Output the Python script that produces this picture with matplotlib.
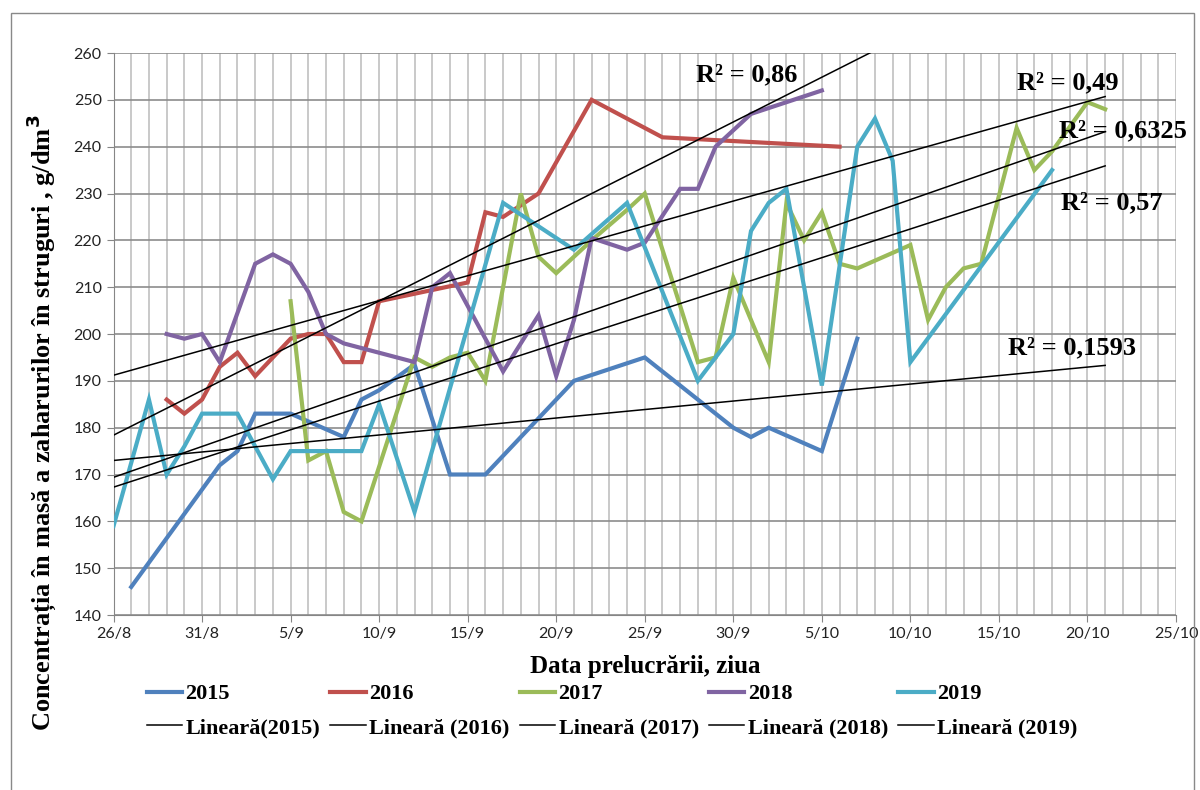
import numpy as np
import pandas as pd
import matplotlib
matplotlib.use("Agg")
import matplotlib.pyplot as plt
from matplotlib.patches import Rectangle

# date de masurare (zi/luna) si concentratia zaharurilor, g/dm3
days_2015 = ["27/8", "1/9", "2/9", "3/9", "5/9", "8/9", "9/9", "10/9", "12/9", "14/9",
             "16/9", "21/9", "25/9", "30/9", "1/10", "2/10", "5/10", "7/10"]
vals_2015 = [146, 172, 175, 183, 183, 178, 186, 188, 193.5, 170,
             170, 190, 195, 180, 178, 180, 175, 199]

days_2016 = ["29/8", "30/8", "31/8", "1/9", "2/9", "3/9", "5/9", "6/9", "7/9", "8/9",
             "9/9", "10/9", "15/9", "16/9", "17/9", "19/9", "22/9", "26/9", "6/10"]
vals_2016 = [186, 183, 186, 193, 196, 191, 199, 200, 200, 194,
             194, 207, 211, 226, 225, 230, 250, 242, 240]

days_2017 = ["5/9", "6/9", "7/9", "8/9", "9/9", "12/9", "13/9", "14/9", "15/9", "16/9",
             "18/9", "19/9", "20/9", "21/9", "22/9", "24/9", "25/9", "28/9", "29/9", "30/9",
             "2/10", "3/10", "4/10", "5/10", "6/10", "7/10", "10/10", "11/10", "12/10", "13/10",
             "14/10", "16/10", "17/10", "18/10", "20/10", "21/10"]
vals_2017 = [207, 173, 175, 162, 160, 195, 193, 195, 196, 190,
             230, 216.5, 213, 216.5, 220, 226.5, 230, 194, 195, 212,
             194, 228, 220, 226, 215, 214, 219, 203, 210, 214,
             215, 244, 235, 239, 249.5, 248]

days_2018 = ["29/8", "30/8", "31/8", "1/9", "3/9", "4/9", "5/9", "6/9", "7/9", "8/9",
             "10/9", "12/9", "13/9", "14/9", "17/9", "19/9", "20/9", "21/9", "22/9", "24/9",
             "25/9", "27/9", "28/9", "29/9", "30/9", "1/10", "5/10"]
vals_2018 = [200, 199, 200, 194, 215, 217, 215, 209, 200, 198,
             196, 194, 210, 213, 192, 204, 191, 203, 220.5, 218,
             219.5, 231, 231, 240, 243.5, 247, 252]

days_2019 = ["26/8", "28/8", "29/8", "30/8", "31/8", "2/9", "4/9", "5/9", "9/9", "10/9",
             "12/9", "17/9", "21/9", "24/9", "28/9", "30/9", "1/10", "2/10", "3/10", "5/10",
             "7/10", "8/10", "9/10", "10/10", "18/10"]
vals_2019 = [159, 186, 170, 176, 183, 183, 169, 175, 175, 185,
             162, 228, 218, 228, 190, 200, 222, 228, 231, 189,
             240, 246, 237, 194, 235]

years = ["2015", "2016", "2017", "2018", "2019"]
colors = ["#4F81BD", "#C0504D", "#9BBB59", "#8064A2", "#4BACC6"]
all_days = [days_2015, days_2016, days_2017, days_2018, days_2019]
all_vals = [vals_2015, vals_2016, vals_2017, vals_2018, vals_2019]

# tendinte liniare: valoarea la 26/8 si la 21/10
trend_start = [173.0, 191.2, 169.4, 178.4, 167.3]
trend_end = [193.3, 250.7, 243.2, 285.4, 235.9]
trend_from, trend_to = "26/8", "21/10"
r2_labels = ["R² = 0,1593", "R² = 0,49", "R² = 0,6325", "R² = 0,86", "R² = 0,57"]
# pozitia etichetelor: zile dupa 26/8 si valoarea pe axa y
r2_day = [50.5, 51.0, 53.4, 32.9, 53.5]
r2_y = [197.0, 253.6, 243.3, 255.3, 228.0]
legend_trend = ["Lineară(2015)", "Lineară (2016)", "Lineară (2017)", "Lineară (2018)", "Lineară (2019)"]


def to_date(s):
    return pd.to_datetime(s, format="%d/%m")


serif = ["Liberation Serif", "DejaVu Serif"]
start = to_date("26/8")

fig = plt.figure(figsize=(12, 7.9), dpi=100)
ax = fig.add_axes([0.0946, 0.2215, 0.8854, 0.7114])

handles = []
for yr, col, d, v in zip(years, colors, all_days, all_vals):
    h, = ax.plot(to_date(d), v, color=col, lw=3, solid_joinstyle="miter", label=yr, zorder=3)
    handles.append(h)

trend_handles = []
for i in range(5):
    x = to_date([trend_from, trend_to])
    h, = ax.plot(x, [trend_start[i], trend_end[i]], color="black", lw=1.1,
                 label=legend_trend[i], zorder=4)
    trend_handles.append(h)
    ax.text(start + pd.Timedelta(days=r2_day[i]), r2_y[i], r2_labels[i], family=serif,
            fontweight="bold", fontsize=19, va="center", ha="left", zorder=5)

# axe
ax.set_xlim(to_date("26/8"), to_date("25/10"))
ax.set_ylim(140, 260)
ax.set_yticks(np.arange(140, 261, 10))
major = pd.date_range("1900-08-26", "1900-10-25", freq="5D")
minor = pd.date_range("1900-08-26", "1900-10-25", freq="D")
ax.set_xticks(major)
ax.set_xticklabels([f"{t.day}/{t.month}" for t in major])
ax.set_xticks(minor, minor=True)
ax.tick_params(axis="x", which="minor", length=0)
ax.tick_params(axis="both", which="major", length=5, color="#868686",
               labelsize=11.5, labelcolor="#222222")
for lab in ax.get_xticklabels() + ax.get_yticklabels():
    lab.set_family(["Lato", "DejaVu Sans"])

ax.grid(axis="x", which="both", color="#C0C0C0", lw=1.2)
ax.grid(axis="y", which="major", color="#8C8C8C", lw=1.2)
ax.set_axisbelow(True)
for s in ["top", "right"]:
    ax.spines[s].set_visible(False)
for s in ["left", "bottom"]:
    ax.spines[s].set_color("#868686")

fig.text(0.034, 0.465, "Concentrația în masă a zaharurilor în struguri , g/dm$^{\\mathbf{3}}$",
         rotation=90, ha="center", va="center", family=serif, fontweight="bold", fontsize=19)
fig.text(0.5375, 0.156, "Data prelucrării, ziua", ha="center", va="center",
         family=serif, fontweight="bold", fontsize=18)

leg_handles = []
for h, t in zip(handles, trend_handles):
    leg_handles += [h, t]
fig.legend(handles=leg_handles, loc="center", bbox_to_anchor=(0.51, 0.1), ncol=5,
           frameon=False, prop={"family": serif, "weight": "bold", "size": 16},
           handlelength=1.6, handletextpad=0.15, columnspacing=0.45, labelspacing=0.6)

fig.patches.append(Rectangle((11 / 1200, -0.05), 1183 / 1200, 1.05 - 13 / 790,
                             transform=fig.transFigure, fill=False,
                             edgecolor="#898989", lw=1))

fig.savefig("out.png", dpi=100)
